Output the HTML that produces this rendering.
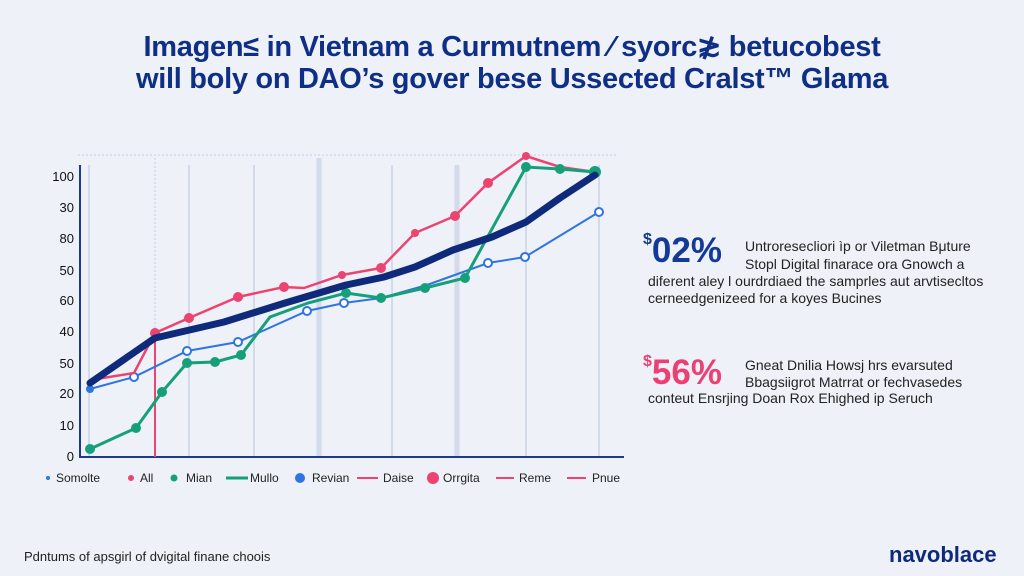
<!DOCTYPE html>
<html><head><meta charset="utf-8"><style>
body{margin:0;width:1024px;height:576px;background:#eef1f8;font-family:"Liberation Sans",sans-serif;overflow:hidden;position:relative}
.t{position:absolute;left:0;width:1024px;text-align:center;color:#0f2f86;font-weight:bold;font-size:29px;letter-spacing:-0.3px}
.p{position:absolute;color:#222;font-size:14px;white-space:nowrap}
.big{position:absolute;font-weight:bold;font-size:35px}
</style></head><body>
<div class="t" style="top:29px">Imagen≤ in Vietnam a Curmutnem ⁄ syorc≵ betucobest</div>
<div class="t" style="top:63px">will boly on DAO’s gover bese Ussected Cralst™ Glama</div>
<svg width="1024" height="576" style="position:absolute;left:0;top:0">
<g stroke="#d3dbea" stroke-width="2">
<line x1="89" y1="165" x2="89" y2="457"/><line x1="189" y1="165" x2="189" y2="457"/><line x1="254" y1="165" x2="254" y2="457"/>
<line x1="319" y1="158" x2="319" y2="457" stroke-width="5"/><line x1="392" y1="165" x2="392" y2="457"/><line x1="457" y1="165" x2="457" y2="457" stroke-width="5"/>
<line x1="526" y1="165" x2="526" y2="457"/><line x1="599" y1="165" x2="599" y2="457"/>
</g>
<line x1="155" y1="158" x2="155" y2="457" stroke="#c5cfe3" stroke-dasharray="2 2"/>
<line x1="78" y1="155" x2="618" y2="155" stroke="#c5cfe3" stroke-dasharray="2 2"/>
<line x1="80" y1="165" x2="80" y2="458" stroke="#1c3a8f" stroke-width="2"/>
<line x1="80" y1="457" x2="624" y2="457" stroke="#1c3a8f" stroke-width="2"/>
<g font-size="13" fill="#111" text-anchor="end">
<text x="74" y="181">100</text><text x="74" y="212">30</text><text x="74" y="243">80</text><text x="74" y="275">50</text><text x="74" y="305">60</text><text x="74" y="336">40</text><text x="74" y="368">50</text><text x="74" y="398">20</text><text x="74" y="430">10</text><text x="74" y="461">0</text>
</g>
<line x1="155" y1="338" x2="155" y2="457" stroke="#ec4470" stroke-width="2"/>
<polyline fill="none" stroke="#2f74e0" stroke-width="2" points="90,389 134,377 187,351 238,342 307,311 344,303 381,298 427,285 488,263 525,257 599,212"/>
<g fill="#fff" stroke="#2f74e0" stroke-width="2"><circle cx="134" cy="377" r="4"/><circle cx="187" cy="351" r="4"/><circle cx="238" cy="342" r="4"/><circle cx="307" cy="311" r="4"/><circle cx="344" cy="303" r="4"/><circle cx="488" cy="263" r="4"/><circle cx="525" cy="257" r="4"/><circle cx="599" cy="212" r="4"/></g>
<circle cx="90" cy="389" r="4" fill="#2f74e0"/>
<polyline fill="none" stroke="#ec4470" stroke-width="2.5" points="90,380 134,373 155,333 189,318 238,297 284,287 304,288 342,275 381,268 415,233 455,216 488,183 526,156 560,167 595,172"/>
<g fill="#ec4470"><circle cx="155" cy="333" r="5"/><circle cx="189" cy="318" r="5"/><circle cx="238" cy="297" r="5"/><circle cx="284" cy="287" r="5"/><circle cx="342" cy="275" r="4"/><circle cx="381" cy="268" r="5"/><circle cx="415" cy="233" r="4"/><circle cx="455" cy="216" r="5"/><circle cx="488" cy="183" r="5"/><circle cx="526" cy="156" r="4"/></g>
<polyline fill="none" stroke="#15a07a" stroke-width="3" points="90,449 136,428 162,392 187,363 215,362 241,355 270,317 308,303 346,293 381,298 425,288 465,278 526,167 560,169 595,172"/>
<g fill="#15a07a"><circle cx="90" cy="449" r="5"/><circle cx="136" cy="428" r="5"/><circle cx="162" cy="392" r="5"/><circle cx="187" cy="363" r="5"/><circle cx="215" cy="362" r="5"/><circle cx="241" cy="355" r="5"/><circle cx="346" cy="293" r="5"/><circle cx="381" cy="298" r="5"/><circle cx="425" cy="288" r="5"/><circle cx="465" cy="278" r="5"/><circle cx="526" cy="167" r="5"/><circle cx="560" cy="169" r="5"/><circle cx="595" cy="172" r="6"/></g>
<polyline fill="none" stroke="#0f2a7a" stroke-width="7" stroke-linejoin="round" stroke-linecap="round" points="90,383 155,338 224,322 285,303 346,285 384,277 415,267 453,250 492,237 526,222 560,198 595,175"/>
<g font-size="12" fill="#222">
<circle cx="48" cy="478" r="2" fill="#2f74e0"/><text x="56" y="482">Somolte</text>
<circle cx="131" cy="478" r="3" fill="#ec4470"/><text x="140" y="482">All</text>
<circle cx="174" cy="478" r="3.5" fill="#15a07a"/><text x="186" y="482">Mian</text>
<line x1="226" y1="478" x2="248" y2="478" stroke="#15a07a" stroke-width="3"/><text x="250" y="482">Mullo</text>
<circle cx="300" cy="478" r="5" fill="#2f74e0"/><text x="312" y="482">Revian</text>
<line x1="357" y1="478" x2="378" y2="478" stroke="#ec4470" stroke-width="2"/><text x="383" y="482">Daise</text>
<circle cx="433" cy="478" r="6" fill="#ec4470"/><text x="443" y="482">Orrgita</text>
<line x1="496" y1="478" x2="514" y2="478" stroke="#ec4470" stroke-width="2"/><text x="519" y="482">Reme</text>
<line x1="567" y1="478" x2="586" y2="478" stroke="#ec4470" stroke-width="2"/><text x="592" y="482">Pnue</text>
</g>
</svg>
<div class="big" style="left:643px;top:231px;color:#123a96"><span style="font-size:16px;vertical-align:top">$</span>02%</div>
<div class="p" style="left:745px;top:238px">Untroresecliori ìp or Viletman Bμture</div>
<div class="p" style="left:745px;top:256px">Stopl Digital finarace ora Gnowch a</div>
<div class="p" style="left:648px;top:273px">diferent aley l ourdrdiaed the samprles aut arvtisecltos</div>
<div class="p" style="left:648px;top:290px">cerneedgenizeed for a koyes Bucines</div>
<div class="big" style="left:643px;top:353px;color:#ec3f74"><span style="font-size:16px;vertical-align:top">$</span>56%</div>
<div class="p" style="left:745px;top:357px">Gneat Dnilia Howsj hrs evarsuted</div>
<div class="p" style="left:745px;top:374px">Bbagsiigrot Matrrat or fechvasedes</div>
<div class="p" style="left:648px;top:390px">conteut Ensrjing Doan Rox Ehighed ip Seruch</div>
<div class="p" style="left:24px;top:549px;font-size:13px">Pdntums of apsgirl of dvigital finane choois</div>
<div style="position:absolute;left:889px;top:542px;font-size:22px;font-weight:bold;color:#0f2a7a">navoblace</div>
</body></html>
